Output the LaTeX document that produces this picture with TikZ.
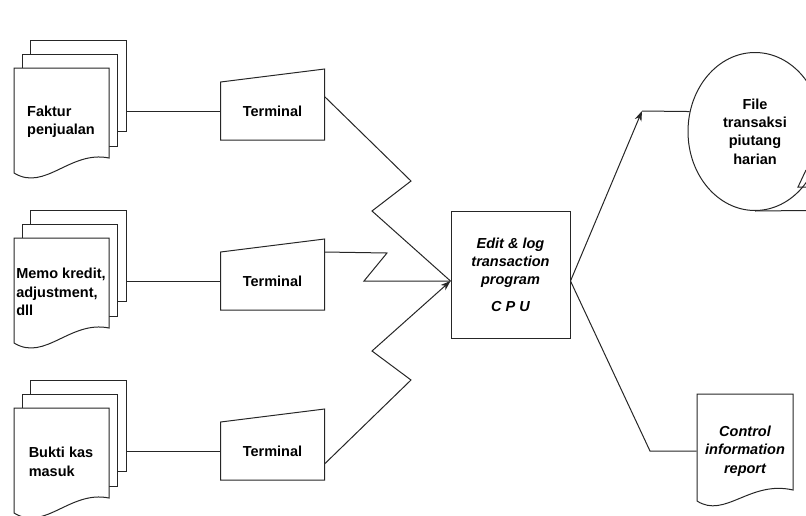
\documentclass[tikz,border=0pt]{standalone}
\usepackage{fontspec}
\setmainfont{Liberation Sans}
\usetikzlibrary{shapes.geometric,arrows.meta}
\begin{document}
\begin{tikzpicture}[x=1pt,y=-1pt,line width=1pt,color=black!85,
	>={Stealth[length=10pt,width=7pt,inset=3pt]},
	every node/.style={text=black,font=\fontsize{14.5}{18.4}\selectfont\bfseries},
	sheet/.style={draw,fill=white,minimum width=95pt,minimum height=91pt},
	termbox/.style={minimum width=103pt,minimum height=57pt,inner sep=0pt},
	cpubox/.style={draw,minimum width=119pt,minimum height=127pt,align=center,font=\fontsize{14.5}{18.4}\selectfont\bfseries\itshape},
	tapenode/.style={ellipse,draw,minimum width=134pt,minimum height=158pt,inner sep=0pt,align=center}
	]
	\clip (0,0) rectangle (806,515);
	% document stacks
	\foreach \i/\yy/\txt in {1/111/{Faktur\\penjualan},2/281/{Memo kredit,\\adjustment,\\dll},3/451/{Bukti kas\\masuk}}{
		\begin{scope}[shift={(0,\yy)}]
			\node[sheet,minimum width=96pt] (back\i) at (78,-25.5) {};
			\node[sheet,minimum height=92pt] (mid\i) at (69.5,-11) {};
			\draw[fill=white] (14,-43) -- (109,-43) -- (109,47) .. controls (70,39) and (45,81) .. (14,62) -- cycle;
			\node[align=left] (doc\i) at (61,11) {\txt};
		\end{scope}
	}
	% terminals
	\foreach \i/\yy in {1/111,2/281,3/451}{
		\node[termbox] (term\i) at (272.5,\yy) {Terminal};
		\draw (term\i.south west) -- (term\i.south east) -- ([yshift=13pt]term\i.north east) -- (term\i.north west) -- cycle;
		\draw (back\i.east |- term\i.west) -- (term\i.west);
	}
	\node[cpubox] (cpu) at (510.5,274.5) {Edit \& log\\transaction\\program\\[8pt]C P U};
	\draw ([yshift=-14.5pt]term1.north east) -- (411,181) -- (372,211) -- ([yshift=-6.5pt]cpu.west);
	\draw (term2.north east) -- (387,253) -- (364,281) -- ([yshift=-6.5pt]cpu.west);
	\draw[->] ([yshift=-13pt]term3.east) -- (411,380) -- (372,351) -- ([yshift=-6.5pt]cpu.west);
	% outputs
	\node[tapenode] (tape) at (755,131.5) {File\\transaksi\\piutang\\harian};
	\coordinate (up) at (642,111);
	\coordinate (tapeend) at (806,210.5);
	\draw[->] ([yshift=-6.5pt]cpu.east) -- (up);
	\draw (up) -- (tape.163);
	\draw (tape.south) -- (tapeend);
	\draw (806,170) -- (798,187) -- (806,187);
	\node[text width=96pt,inner sep=0pt,align=center,minimum height=114pt,font=\fontsize{14.5}{18.4}\selectfont\bfseries\itshape] (report) at (745,451) {Control\\information\\report};
	\draw[shift={(report.center)}] (-48,-57) -- (48,-57) -- (48,39) .. controls (5,29) and (-20,68) .. (-48,50) -- cycle;
	\coordinate (down) at (650,451);
	\draw ([yshift=-6.5pt]cpu.east) -- (down) -- (report.west);
\end{tikzpicture}
\end{document}
